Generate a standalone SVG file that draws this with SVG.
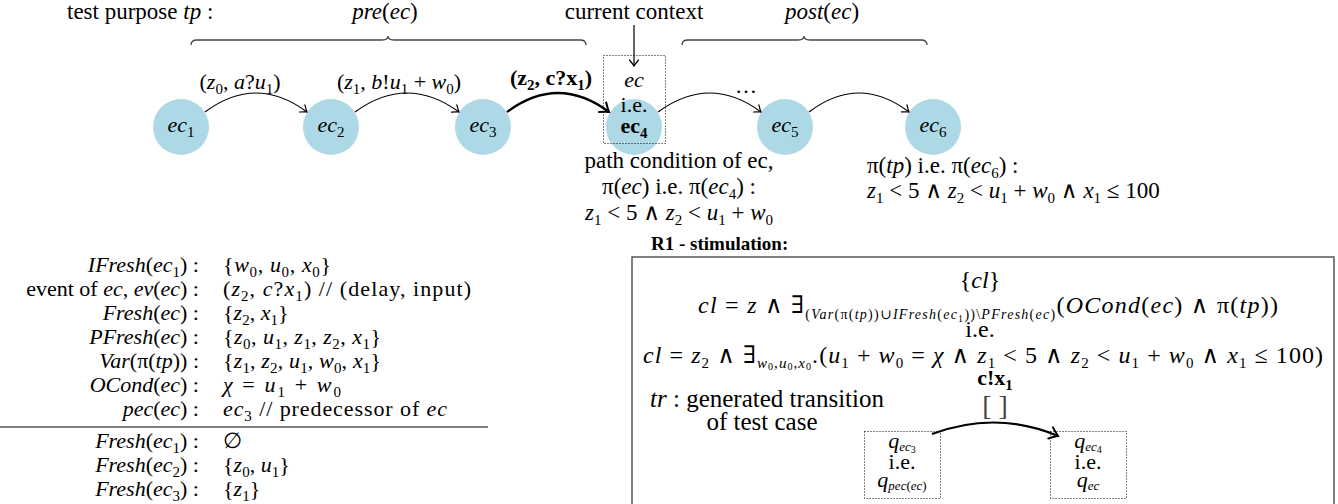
<svg xmlns="http://www.w3.org/2000/svg" width="1338" height="504" viewBox="0 0 1338 504">
<style>
.t{font-family:"Liberation Serif","DejaVu Serif",serif;font-size:22px;fill:#000}
.l{font-size:23px}
.m{font-size:24px}
.i{font-style:italic}
.b{font-weight:bold}
.s{font-size:15px;font-style:normal}
.si{font-size:15px;font-style:italic}
.qs{font-size:13px;font-style:italic}
.ss{font-size:10px;font-style:normal}
.n{fill:#ADD8E6}
.dot{fill:none;stroke:#000;stroke-width:1;stroke-dasharray:1 2}
.e{fill:none;stroke:#000;stroke-width:1.2}
.eb{fill:none;stroke:#000;stroke-width:2.2}
.br{fill:none;stroke:#444;stroke-width:1.3}
</style>
<defs>
<marker id="ah" markerUnits="userSpaceOnUse" viewBox="-8 -6 10 12" refX="0" refY="0" markerWidth="10" markerHeight="12" orient="auto" overflow="visible">
<path d="M-6,-4.5 Q-2,-1.2 0,0 Q-2,1.2 -6,4.5" fill="none" stroke="#000" stroke-width="1.2" stroke-linecap="round"/>
</marker>
<marker id="ahb" markerUnits="userSpaceOnUse" viewBox="-10 -8 12 16" refX="0" refY="0" markerWidth="12" markerHeight="16" orient="auto" overflow="visible">
<path d="M-8,-6 Q-2.5,-1.5 0,0 Q-2.5,1.5 -8,6" fill="none" stroke="#000" stroke-width="2" stroke-linecap="round"/>
</marker>
</defs>

<g id="header">
<text class="t l" x="67" y="19">test purpose <tspan class="i">tp</tspan> :</text>
<text class="t l" x="385" y="19" text-anchor="middle"><tspan class="i">pre</tspan>(<tspan class="i">ec</tspan>)</text>
<text class="t l" x="634" y="19" text-anchor="middle">current context</text>
<text class="t l" x="822" y="19" text-anchor="middle"><tspan class="i">post</tspan>(<tspan class="i">ec</tspan>)</text>
<path class="br" d="M191,45 Q191,40 197,40 L382,40 Q388,40 388,36 Q388,40 394,40 L580,40 Q586,40 586,45"/>
<path class="br" d="M682,45 Q682,40 688,40 L798,40 Q804,40 804,36 Q804,40 810,40 L921,40 Q927,40 927,45"/>
<line x1="634" y1="25" x2="634" y2="66" class="e" marker-end="url(#ah)"/>
</g>

<g id="ec1"><circle class="n" cx="181" cy="127" r="28"/><text class="t i" x="181" y="132" text-anchor="middle">ec<tspan class="s" dy="5">1</tspan></text></g>
<g id="ec2"><circle class="n" cx="331" cy="127" r="28"/><text class="t i" x="331" y="132" text-anchor="middle">ec<tspan class="s" dy="5">2</tspan></text></g>
<g id="ec3"><circle class="n" cx="483" cy="127" r="28"/><text class="t i" x="483" y="132" text-anchor="middle">ec<tspan class="s" dy="5">3</tspan></text></g>
<g id="ec4"><circle class="n" cx="634" cy="127" r="28"/>
<rect class="dot" x="603.5" y="55.5" width="62" height="88"/>
<text class="t i" x="634" y="87" text-anchor="middle">ec</text>
<text class="t" x="634" y="112" text-anchor="middle">i.e.</text>
<text class="t b" x="634" y="133" text-anchor="middle">ec<tspan class="s" dy="5">4</tspan></text>
</g>
<g id="ec5"><circle class="n" cx="785" cy="127" r="28"/><text class="t i" x="785" y="132" text-anchor="middle">ec<tspan class="s" dy="5">5</tspan></text></g>
<g id="ec6"><circle class="n" cx="933" cy="127" r="28"/><text class="t i" x="933" y="132" text-anchor="middle">ec<tspan class="s" dy="5">6</tspan></text></g>

<g id="connectors">
<path class="e" d="M205,112 Q256,74 307,112" marker-end="url(#ah)"/>
<path class="e" d="M355,112 Q407,74 459,112" marker-end="url(#ah)"/>
<path class="eb" d="M507,112 Q558,74 609,112" marker-end="url(#ahb)"/>
<path class="e" d="M658,112 Q710,74 761,112" marker-end="url(#ah)"/>
<path class="e" d="M809,112 Q859,74 909,112" marker-end="url(#ah)"/>
<text class="t" x="240" y="89" text-anchor="middle">(<tspan class="i">z</tspan><tspan class="s" dy="5">0</tspan><tspan dy="-5">, </tspan><tspan class="i">a</tspan>?<tspan class="i">u</tspan><tspan class="s" dy="5">1</tspan><tspan dy="-5">)</tspan></text>
<text class="t" x="399" y="89" text-anchor="middle">(<tspan class="i">z</tspan><tspan class="s" dy="5">1</tspan><tspan dy="-5">, </tspan><tspan class="i">b</tspan>!<tspan class="i">u</tspan><tspan class="s" dy="5">1</tspan><tspan dy="-5"> + </tspan><tspan class="i">w</tspan><tspan class="s" dy="5">0</tspan><tspan dy="-5">)</tspan></text>
<text class="t b" x="551" y="85" text-anchor="middle">(z<tspan class="s" dy="5">2</tspan><tspan dy="-5">, c?x</tspan><tspan class="s" dy="5">1</tspan><tspan dy="-5">)</tspan></text>
<text class="t" x="746" y="93" text-anchor="middle">…</text>
</g>

<g id="pathcond">
<text class="t l" x="679" y="168" text-anchor="middle">path condition of ec,</text>
<text class="t l" x="679" y="194" text-anchor="middle">π(<tspan class="i">ec</tspan>) i.e. π(<tspan class="i">ec</tspan><tspan class="s" dy="5">4</tspan><tspan dy="-5">) :</tspan></text>
<text class="t l" x="679" y="220" text-anchor="middle"><tspan class="i">z</tspan><tspan class="s" dy="5">1</tspan><tspan dy="-5"> &lt; 5 ∧ </tspan><tspan class="i">z</tspan><tspan class="s" dy="5">2</tspan><tspan dy="-5"> &lt; </tspan><tspan class="i">u</tspan><tspan class="s" dy="5">1</tspan><tspan dy="-5"> + </tspan><tspan class="i">w</tspan><tspan class="s" dy="5">0</tspan></text>
</g>

<g id="tpcond">
<text class="t l" x="867" y="173">π(<tspan class="i">tp</tspan>) i.e. π(<tspan class="i">ec</tspan><tspan class="s" dy="5">6</tspan><tspan dy="-5">) :</tspan></text>
<text class="t l" x="867" y="198"><tspan class="i">z</tspan><tspan class="s" dy="5">1</tspan><tspan dy="-5"> &lt; 5 ∧ </tspan><tspan class="i">z</tspan><tspan class="s" dy="5">2</tspan><tspan dy="-5"> &lt; </tspan><tspan class="i">u</tspan><tspan class="s" dy="5">1</tspan><tspan dy="-5"> + </tspan><tspan class="i">w</tspan><tspan class="s" dy="5">0</tspan><tspan dy="-5"> ∧ </tspan><tspan class="i">x</tspan><tspan class="s" dy="5">1</tspan><tspan dy="-5"> ≤ 100</tspan></text>
</g>

<g id="table">
<text class="t" x="199" y="272" text-anchor="end"><tspan class="i">IFresh</tspan>(<tspan class="i">ec</tspan><tspan class="s" dy="5">1</tspan><tspan dy="-5">) :</tspan></text>
<text class="t" x="223" y="272" textLength="108" lengthAdjust="spacing">{<tspan class="i">w</tspan><tspan class="s" dy="5">0</tspan><tspan dy="-5">, </tspan><tspan class="i">u</tspan><tspan class="s" dy="5">0</tspan><tspan dy="-5">, </tspan><tspan class="i">x</tspan><tspan class="s" dy="5">0</tspan><tspan dy="-5">}</tspan></text>

<text class="t" x="199" y="296" text-anchor="end">event of <tspan class="i">ec</tspan>, <tspan class="i">ev</tspan>(<tspan class="i">ec</tspan>) :</text>
<text class="t" x="223" y="296" textLength="248" lengthAdjust="spacing">(<tspan class="i">z</tspan><tspan class="s" dy="5">2</tspan><tspan dy="-5">, </tspan><tspan class="i">c</tspan>?<tspan class="i">x</tspan><tspan class="s" dy="5">1</tspan><tspan dy="-5">) // (delay, input)</tspan></text>

<text class="t" x="199" y="320" text-anchor="end"><tspan class="i">Fresh</tspan>(<tspan class="i">ec</tspan>) :</text>
<text class="t" x="223" y="320">{<tspan class="i">z</tspan><tspan class="s" dy="5">2</tspan><tspan dy="-5">, </tspan><tspan class="i">x</tspan><tspan class="s" dy="5">1</tspan><tspan dy="-5">}</tspan></text>

<text class="t" x="199" y="344" text-anchor="end"><tspan class="i">PFresh</tspan>(<tspan class="i">ec</tspan>) :</text>
<text class="t" x="223" y="344" textLength="158" lengthAdjust="spacing">{<tspan class="i">z</tspan><tspan class="s" dy="5">0</tspan><tspan dy="-5">, </tspan><tspan class="i">u</tspan><tspan class="s" dy="5">1</tspan><tspan dy="-5">, </tspan><tspan class="i">z</tspan><tspan class="s" dy="5">1</tspan><tspan dy="-5">, </tspan><tspan class="i">z</tspan><tspan class="s" dy="5">2</tspan><tspan dy="-5">, </tspan><tspan class="i">x</tspan><tspan class="s" dy="5">1</tspan><tspan dy="-5">}</tspan></text>

<text class="t" x="199" y="368" text-anchor="end"><tspan class="i">Var</tspan>(π(<tspan class="i">tp</tspan>)) :</text>
<text class="t" x="223" y="368" textLength="158" lengthAdjust="spacing">{<tspan class="i">z</tspan><tspan class="s" dy="5">1</tspan><tspan dy="-5">, </tspan><tspan class="i">z</tspan><tspan class="s" dy="5">2</tspan><tspan dy="-5">, </tspan><tspan class="i">u</tspan><tspan class="s" dy="5">1</tspan><tspan dy="-5">, </tspan><tspan class="i">w</tspan><tspan class="s" dy="5">0</tspan><tspan dy="-5">, </tspan><tspan class="i">x</tspan><tspan class="s" dy="5">1</tspan><tspan dy="-5">}</tspan></text>

<text class="t" x="199" y="392" text-anchor="end"><tspan class="i">OCond</tspan>(<tspan class="i">ec</tspan>) :</text>
<text class="t" x="223" y="392" textLength="118" lengthAdjust="spacing"><tspan class="i">χ</tspan> = <tspan class="i">u</tspan><tspan class="s" dy="5">1</tspan><tspan dy="-5"> + </tspan><tspan class="i">w</tspan><tspan class="s" dy="5">0</tspan></text>

<text class="t" x="199" y="416" text-anchor="end"><tspan class="i">pec</tspan>(<tspan class="i">ec</tspan>) :</text>
<text class="t" x="223" y="416" textLength="224" lengthAdjust="spacing"><tspan class="i">ec</tspan><tspan class="s" dy="5">3</tspan><tspan dy="-5"> // predecessor of </tspan><tspan class="i">ec</tspan></text>

<line x1="0" y1="427" x2="488" y2="427" stroke="#000" stroke-width="1.2"/>

<text class="t" x="199" y="448" text-anchor="end"><tspan class="i">Fresh</tspan>(<tspan class="i">ec</tspan><tspan class="s" dy="5">1</tspan><tspan dy="-5">) :</tspan></text>
<text class="t" x="223" y="448">∅</text>
<text class="t" x="199" y="472" text-anchor="end"><tspan class="i">Fresh</tspan>(<tspan class="i">ec</tspan><tspan class="s" dy="5">2</tspan><tspan dy="-5">) :</tspan></text>
<text class="t" x="223" y="472">{<tspan class="i">z</tspan><tspan class="s" dy="5">0</tspan><tspan dy="-5">, </tspan><tspan class="i">u</tspan><tspan class="s" dy="5">1</tspan><tspan dy="-5">}</tspan></text>
<text class="t" x="199" y="496" text-anchor="end"><tspan class="i">Fresh</tspan>(<tspan class="i">ec</tspan><tspan class="s" dy="5">3</tspan><tspan dy="-5">) :</tspan></text>
<text class="t" x="223" y="496">{<tspan class="i">z</tspan><tspan class="s" dy="5">1</tspan><tspan dy="-5">}</tspan></text>
</g>

<g id="r1">
<text class="t b" x="651" y="250" style="font-size:19px">R1 - stimulation:</text>
<rect x="632" y="257" width="702" height="270" fill="none" stroke="#555" stroke-width="1.5"/>
<text class="t m" x="980" y="288" text-anchor="middle">{<tspan class="i">cl</tspan>}</text>
<text class="t m" x="988" y="313" text-anchor="middle" textLength="580" lengthAdjust="spacing"><tspan class="i">cl</tspan> = <tspan class="i">z</tspan> ∧ ∃<tspan dy="6" style="font-size:14px">(<tspan class="i">Var</tspan>(π(<tspan class="i">tp</tspan>))∪<tspan class="i">IFresh</tspan>(<tspan class="i">ec</tspan><tspan dy="3" style="font-size:10px">1</tspan><tspan dy="-3">))\</tspan><tspan class="i">PFresh</tspan>(<tspan class="i">ec</tspan>)</tspan><tspan dy="-6">(</tspan><tspan class="i">OCond</tspan>(<tspan class="i">ec</tspan>) ∧ π(<tspan class="i">tp</tspan>))</text>
<text class="t m" x="980" y="337" text-anchor="middle">i.e.</text>
<text class="t m" x="983" y="363" text-anchor="middle" textLength="680" lengthAdjust="spacing"><tspan class="i">cl</tspan> = <tspan class="i">z</tspan><tspan class="s" dy="5">2</tspan><tspan dy="-5"> ∧ ∃</tspan><tspan class="si" dy="5">w</tspan><tspan class="ss" dy="2">0</tspan><tspan class="s" dy="-2">,</tspan><tspan class="si">u</tspan><tspan class="ss" dy="2">0</tspan><tspan class="s" dy="-2">,</tspan><tspan class="si">x</tspan><tspan class="ss" dy="2">0</tspan><tspan dy="-7">.(</tspan><tspan class="i">u</tspan><tspan class="s" dy="5">1</tspan><tspan dy="-5"> + </tspan><tspan class="i">w</tspan><tspan class="s" dy="5">0</tspan><tspan dy="-5"> = </tspan><tspan class="i">χ</tspan> ∧ <tspan class="i">z</tspan><tspan class="s" dy="5">1</tspan><tspan dy="-5"> &lt; 5 ∧ </tspan><tspan class="i">z</tspan><tspan class="s" dy="5">2</tspan><tspan dy="-5"> &lt; </tspan><tspan class="i">u</tspan><tspan class="s" dy="5">1</tspan><tspan dy="-5"> + </tspan><tspan class="i">w</tspan><tspan class="s" dy="5">0</tspan><tspan dy="-5"> ∧ </tspan><tspan class="i">x</tspan><tspan class="s" dy="5">1</tspan><tspan dy="-5"> ≤ 100)</tspan></text>
<text class="t b" x="995" y="385" text-anchor="middle">c!x<tspan class="s" dy="5">1</tspan></text>
<text class="t" x="995" y="415" text-anchor="middle" style="font-size:28px;fill:#444">[ ]</text>
<text class="t" x="650" y="407" style="font-size:25px"><tspan class="i">tr</tspan> : generated transition</text>
<text class="t" x="762" y="430" text-anchor="middle" style="font-size:25px">of test case</text>
</g>

<g id="q_ec3">
<rect class="dot" x="864.5" y="431.5" width="76" height="67"/>
<text class="t" x="902" y="448" text-anchor="middle"><tspan class="i">q</tspan><tspan class="qs" dy="3">ec</tspan><tspan class="ss" dy="2">3</tspan></text>
<text class="t" x="902" y="469" text-anchor="middle">i.e.</text>
<text class="t" x="902" y="487" text-anchor="middle"><tspan class="i">q</tspan><tspan class="qs" dy="3">pec</tspan><tspan class="s" style="font-size:13px">(</tspan><tspan class="qs">ec</tspan><tspan class="s" style="font-size:13px">)</tspan></text>
</g>
<g id="q_ec4">
<rect class="dot" x="1050.5" y="431.5" width="76" height="67"/>
<text class="t" x="1088" y="448" text-anchor="middle"><tspan class="i">q</tspan><tspan class="qs" dy="3">ec</tspan><tspan class="ss" dy="2">4</tspan></text>
<text class="t" x="1088" y="469" text-anchor="middle">i.e.</text>
<text class="t" x="1088" y="487" text-anchor="middle"><tspan class="i">q</tspan><tspan class="qs" dy="3">ec</tspan></text>
</g>
<g id="tr-connector">
<path class="eb" d="M932,434 Q996,410 1058,436" marker-end="url(#ahb)"/>
</g>
</svg>
